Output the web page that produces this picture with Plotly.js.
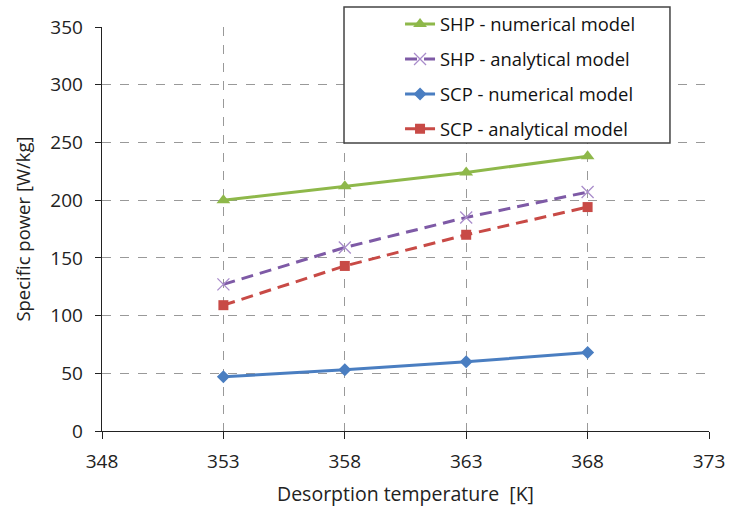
<!DOCTYPE html>
<html>
<head>
<meta charset="utf-8">
<script src="https://cdn.plot.ly/plotly-3.0.1.min.js"></script>
<style>html,body{margin:0;padding:0;background:#fff;}#chart{width:731px;height:510px;}</style>
</head>
<body>
<div id="chart"></div>
<script>
var temperatures = [353, 358, 363, 368];
var shpNumerical = [200, 212, 224, 238];
var shpAnalytical = [127, 159, 185, 207];
var scpNumerical = [47, 53, 60, 68];
var scpAnalytical = [109, 143, 170, 194];
var xTicks = [348, 353, 358, 363, 368, 373];
var yTicks = [0, 50, 100, 150, 200, 250, 300, 350];

var font = 'Open Sans, Noto Sans, sans-serif';
var traces = [
  {x: temperatures, y: shpNumerical, name: 'SHP - numerical model', mode: 'lines+markers', legendgroup: 'a',
   line: {color: '#8EB84A', width: 3}, marker: {symbol: 'triangle-up', size: 12, color: '#8EB84A'}},
  {x: temperatures, y: shpAnalytical, name: 'SHP - analytical model', mode: 'lines+markers', legendgroup: 'b',
   line: {color: '#7E5AA6', width: 3, dash: '12px,7px'}, marker: {symbol: 'x-thin', size: 12, line: {color: '#A98CCB', width: 1.3}}},
  {x: temperatures, y: scpNumerical, name: 'SCP - numerical model', mode: 'lines+markers', legendgroup: 'c',
   line: {color: '#4A7EC1', width: 3}, marker: {symbol: 'diamond', size: 10, color: '#4A7EC1'}},
  {x: temperatures, y: scpAnalytical, name: 'SCP - analytical model', mode: 'lines+markers', legendgroup: 'd',
   line: {color: '#C84A46', width: 3, dash: '12px,7px'}, marker: {symbol: 'square', size: 10, color: '#C84A46'}}
];

var layout = {
  width: 731, height: 510,
  margin: {l: 102, r: 22, t: 27, b: 79, autoexpand: false},
  paper_bgcolor: '#fff', plot_bgcolor: '#fff',
  font: {family: font, color: '#222', size: 18},
  showlegend: true,
  legend: {x: 0.491, y: 1.053, xanchor: 'left', yanchor: 'top', bgcolor: 'rgba(0,0,0,0)',
           borderwidth: 0, font: {size: 18.4, family: font, color: '#111'},
           tracegroupgap: 8},
  shapes: [{type: 'rect', xref: 'paper', yref: 'paper', x0: 0.3987, x1: 0.9357, y0: 0.7129, y1: 1.0495,
            line: {color: '#444', width: 1.5}, fillcolor: '#fff', layer: 'above'}],
  xaxis: {range: [348, 373], tickvals: xTicks, ticktext: xTicks.map(String),
          showgrid: true, gridcolor: '#999', griddash: 'dash', gridwidth: 1,
          showline: true, linecolor: '#222', linewidth: 1.3, ticks: 'outside', ticklen: 7, tickcolor: '#222',
          zeroline: false, tickfont: {size: 19}, ticklabelstandoff: 6,
          title: {text: 'Desorption temperature  [K]', font: {size: 19.5}, standoff: 14}},
  yaxis: {range: [0, 350], tickvals: yTicks, ticktext: yTicks.map(String),
          showgrid: true, gridcolor: '#999', griddash: 'dash', gridwidth: 1,
          showline: true, linecolor: '#222', linewidth: 1.3, ticks: 'outside', ticklen: 6, tickcolor: '#222',
          zeroline: false, tickfont: {size: 19}, ticklabelstandoff: 8,
          title: {text: 'Specific power [W/kg]', font: {size: 18.5}, standoff: 14}}
};

Plotly.newPlot('chart', traces, layout, {displayModeBar: false, staticPlot: true});
</script>
</body>
</html>
